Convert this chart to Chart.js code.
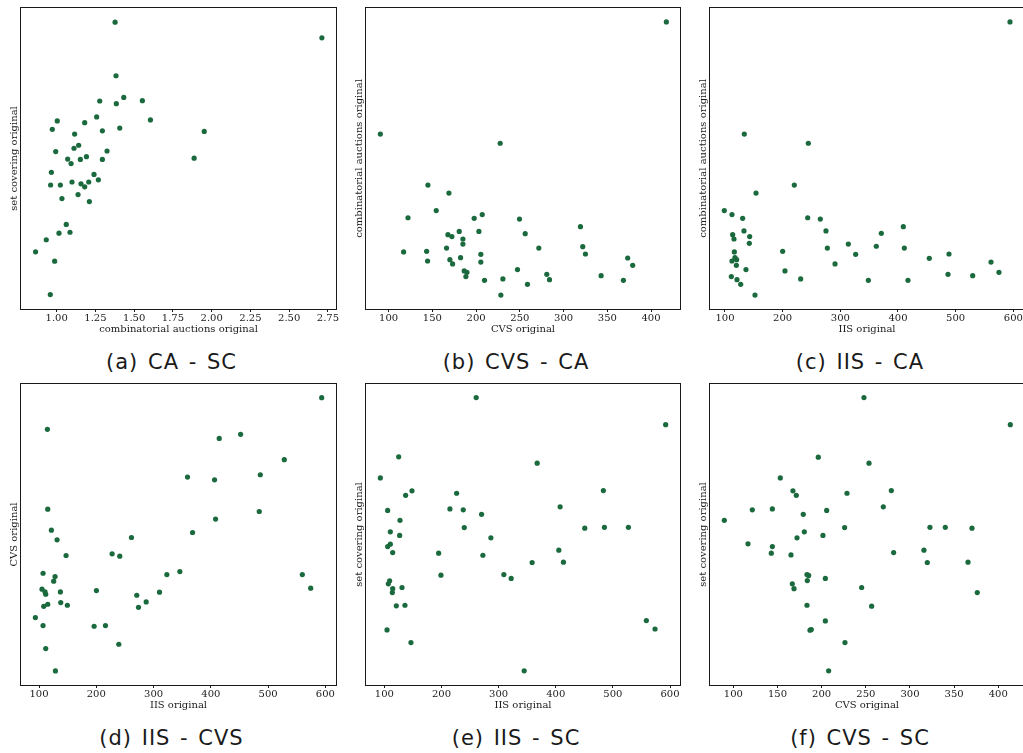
<!DOCTYPE html>
<html>
<head>
<meta charset="utf-8">
<script src="https://cdn.jsdelivr.net/npm/chart.js@4.4.1/dist/chart.umd.min.js"></script>
<style>
  html, body { margin: 0; padding: 0; background: #fff; overflow: hidden; width: 1023px; height: 753px; }
  canvas { position: absolute; }
  .caption {
    position: absolute; text-align: center; font-family: 'DejaVu Sans', sans-serif;
    font-size: 21px; line-height: 24px; color: #1a1a1a; letter-spacing: 1px; word-spacing: 2px;
    white-space: nowrap;
  }
</style>
</head>
<body>
<canvas id="c0"></canvas>
<canvas id="c1"></canvas>
<canvas id="c2"></canvas>
<canvas id="c3"></canvas>
<canvas id="c4"></canvas>
<canvas id="c5"></canvas>
<div class="caption" id="cap0"></div>
<div class="caption" id="cap1"></div>
<div class="caption" id="cap2"></div>
<div class="caption" id="cap3"></div>
<div class="caption" id="cap4"></div>
<div class="caption" id="cap5"></div>
<script>
// (a) CA - SC : x = combinatorial auctions, y = set covering (relative units)
const aX = [1.377, 2.711, 1.383, 1.433, 1.278, 1.553, 1.385, 1.258, 1.004, 0.972, 1.181, 1.605, 1.407, 1.295, 1.952,
  1.116, 1.142, 1.112, 0.994, 1.325, 1.192, 1.071, 1.153, 1.295, 1.887, 1.093, 0.966, 1.241, 1.269, 1.099,
  1.207, 1.157, 0.961, 1.024, 1.181, 1.138, 1.034, 1.211, 1.062, 1.015, 1.086, 0.933, 0.864, 0.987, 0.959];
const aY = [95.3, 90.1, 77.5, 70.3, 69.1, 69.2, 68.2, 63.8, 62.5, 59.7, 61.9, 62.8, 60.1, 59.2, 59.0,
  58.1, 54.4, 53.4, 52.3, 52.5, 50.6, 49.8, 49.7, 49.7, 50.1, 48.3, 45.4, 44.7, 42.9, 42.2,
  42.2, 41.6, 41.2, 41.2, 40.6, 38.0, 36.7, 35.7, 28.1, 25.2, 25.5, 23.0, 19.0, 15.9, 4.8];

// (b) CVS - CA : x = CVS, y = combinatorial auctions
const bX = [417.5, 90.5, 227.5, 144.9, 168.9, 154.4, 122.1, 197.8, 207.0, 249.6, 180.7, 203.2, 256.1, 319.3, 167.8,
  172.3, 184.9, 184.9, 166.2, 271.7, 321.9, 117.1, 143.4, 205.4, 325.0, 182.2, 170.0, 144.5, 173.1, 205.4,
  373.3, 379.0, 186.4, 189.5, 247.3, 280.8, 342.9, 188.3, 230.6, 209.6, 283.9, 368.4, 258.7, 228.3];
const bY = [2.703, 1.949, 1.887, 1.606, 1.552, 1.434, 1.386, 1.382, 1.407, 1.377, 1.294, 1.294, 1.279, 1.326, 1.272,
  1.259, 1.243, 1.209, 1.182, 1.182, 1.191, 1.156, 1.160, 1.140, 1.142, 1.117, 1.104, 1.095, 1.075, 1.088,
  1.115, 1.066, 1.028, 1.019, 1.037, 1.005, 0.996, 0.990, 0.974, 0.965, 0.969, 0.965, 0.938, 0.866];

// (c) IIS - CA : x = IIS, y = combinatorial auctions
const cX = [594.2, 133.5, 244.5, 220.2, 153.8, 98.8, 112.1, 130.6, 243.4, 265.3, 409.2, 132.9, 275.1, 371.1, 113.3,
  142.8, 115.6, 142.2, 313.9, 362.4, 277.5, 411.0, 200.0, 116.2, 326.6, 488.4, 117.3, 454.3, 120.2, 112.1,
  561.3, 290.8, 119.7, 136.4, 204.0, 575.1, 486.7, 529.5, 111.0, 231.2, 120.8, 348.6, 417.3, 127.2, 152.0];
const cY = [2.703, 1.949, 1.887, 1.606, 1.552, 1.434, 1.407, 1.382, 1.386, 1.377, 1.326, 1.297, 1.297, 1.281, 1.272,
  1.259, 1.243, 1.214, 1.209, 1.194, 1.182, 1.182, 1.160, 1.156, 1.140, 1.142, 1.117, 1.113, 1.104, 1.095,
  1.088, 1.075, 1.066, 1.037, 1.028, 1.019, 1.005, 0.996, 0.990, 0.974, 0.969, 0.965, 0.965, 0.938, 0.866];

// (d) IIS - CVS : x = IIS, y = CVS
const dX = [593.6, 114.6, 414.7, 452.0, 528.3, 486.4, 359.3, 406.5, 115.2, 484.6, 408.3, 121.6, 368.1, 261.4, 131.5,
  147.2, 227.6, 241.0, 107.0, 128.0, 345.9, 323.2, 559.8, 125.6, 574.4, 105.2, 200.2, 110.5, 111.7, 137.3,
  310.4, 270.7, 287.1, 137.9, 115.2, 108.2, 149.5, 273.7, 93.6, 107.0, 196.2, 216.0, 239.3, 111.7, 128.6];
const dY = [417.6, 379.7, 368.9, 373.7, 343.4, 325.4, 322.6, 319.4, 284.3, 281.5, 272.4, 259.2, 256.4, 250.4, 247.6,
  228.9, 230.9, 228.1, 207.7, 203.7, 209.7, 206.1, 206.1, 198.2, 189.8, 188.6, 187.0, 185.4, 182.6, 185.4,
  185.0, 181.4, 173.4, 172.6, 170.6, 168.2, 169.4, 167.0, 154.7, 145.1, 144.3, 145.1, 122.8, 117.6, 90.9];

// (e) IIS - SC : x = IIS, y = set covering
const eX = [260.8, 592.4, 125.1, 367.5, 93.0, 148.4, 483.4, 137.3, 226.5, 407.7, 105.8, 214.8, 238.1, 270.2, 127.4,
  239.9, 450.8, 485.2, 527.2, 110.5, 126.8, 286.5, 110.5, 105.8, 114.6, 195.0, 272.5, 405.4, 358.7, 413.5,
  199.1, 309.2, 322.0, 109.3, 107.0, 114.6, 130.9, 114.0, 121.0, 136.1, 558.6, 104.7, 573.8, 146.6, 344.8];
const eY = [95.5, 86.5, 75.8, 73.7, 68.8, 64.5, 64.6, 63.0, 63.7, 59.2, 58.0, 58.5, 58.2, 56.7, 54.7,
  52.3, 52.1, 52.4, 52.4, 50.9, 49.7, 48.9, 46.8, 46.0, 44.0, 43.8, 43.1, 44.8, 40.7, 40.8,
  36.5, 36.7, 35.4, 34.6, 33.6, 32.0, 32.4, 30.7, 26.3, 26.5, 21.4, 18.3, 18.6, 14.1, 4.7];

// (f) CVS - SC : x = CVS, y = set covering
const fX = [247.9, 413.6, 196.2, 253.6, 153.2, 167.5, 171.3, 228.7, 278.9, 269.8, 121.5, 144.2, 205.7, 179.2, 89.8,
  180.4, 226.0, 322.6, 340.0, 370.2, 201.5, 172.1, 116.6, 144.2, 143.0, 165.3, 281.5, 315.8, 319.6, 365.7,
  183.4, 185.3, 183.8, 204.2, 166.8, 168.7, 245.3, 376.2, 183.4, 256.6, 204.2, 186.8, 188.3, 226.4, 207.9];
const fY = [95.5, 86.5, 75.7, 73.7, 68.8, 64.5, 63.0, 63.7, 64.6, 59.2, 58.2, 58.5, 58.0, 56.7, 54.7,
  50.9, 52.3, 52.4, 52.4, 52.1, 49.7, 48.9, 46.9, 46.0, 43.8, 43.2, 44.0, 44.8, 40.7, 40.8,
  36.7, 36.4, 34.7, 35.4, 33.6, 32.0, 32.4, 30.7, 26.5, 26.2, 21.3, 18.2, 18.4, 14.1, 4.7];

// tick labels
const caTicks = [1.00, 1.25, 1.50, 1.75, 2.00, 2.25, 2.50, 2.75];
const cvsTicks = [100, 150, 200, 250, 300, 350, 400];
const iisTicks = [100, 200, 300, 400, 500, 600];

const captions = ['(a) CA - SC', '(b) CVS - CA', '(c) IIS - CA', '(d) IIS - CVS', '(e) IIS - SC', '(f) CVS - SC'];
const xTitles = ['combinatorial auctions original', 'CVS original', 'IIS original', 'IIS original', 'IIS original', 'CVS original'];
const yTitles = ['set covering original', 'combinatorial auctions original', 'combinatorial auctions original',
  'CVS original', 'set covering original', 'set covering original'];

const panels = [
  { xs: aX, ys: aY, ticks: caTicks, dec: 2, xr: [0.770, 2.802], yr: [0, 100] },
  { xs: bX, ys: bY, ticks: cvsTicks, dec: 0, xr: [74.1, 433.1], yr: [0.772, 2.797] },
  { xs: cX, ys: cY, ticks: iisTicks, dec: 0, xr: [74.0, 618.5], yr: [0.772, 2.797] },
  { xs: dX, ys: dY, ticks: iisTicks, dec: 0, xr: [68.5, 618.6], yr: [74.1, 433.9] },
  { xs: eX, ys: eY, ticks: iisTicks, dec: 0, xr: [67.9, 617.5], yr: [0, 100] },
  { xs: fX, ys: fY, ticks: cvsTicks, dec: 0, xr: [73.6, 429.1], yr: [0, 100] },
];

// plot-area boxes in page pixels: left, top, right, bottom
const boxes = [
  [21, 8, 336, 309], [366, 8, 680, 309], [710, 8, 1024, 309],
  [21, 384, 336, 685], [366, 384, 680, 685], [710, 384, 1024, 685],
];
const Y_W = 14, X_H = 26, PAD_T = 4, PAD_R = 4;
const captionTop = [350, 350, 350, 726, 726, 726];

const serif = { family: 'DejaVu Serif', size: 10 };
const textColor = '#1a1a1a';

const framePlugin = {
  id: 'frame',
  afterDraw(chart) {
    const { ctx, chartArea: a } = chart;
    ctx.save();
    ctx.strokeStyle = '#1a1a1a';
    ctx.lineWidth = 1;
    ctx.strokeRect(a.left - 0.5, a.top - 0.5, a.right - a.left + 1, a.bottom - a.top + 1);
    ctx.restore();
  }
};

panels.forEach((p, i) => {
  const [l, t, r, b] = boxes[i];
  const canvas = document.getElementById('c' + i);
  const w = (r - l) + Y_W + PAD_R;
  const h = (b - t) + PAD_T + X_H;
  canvas.width = w; canvas.height = h;
  canvas.style.width = w + 'px'; canvas.style.height = h + 'px';
  canvas.style.left = (l - Y_W) + 'px';
  canvas.style.top = (t - PAD_T) + 'px';

  const cap = document.getElementById('cap' + i);
  cap.textContent = captions[i];
  cap.style.left = (l - Y_W) + 'px';
  cap.style.width = (r - l + Y_W) + 'px';
  cap.style.top = captionTop[i] + 'px';

  new Chart(canvas, {
    type: 'scatter',
    data: {
      datasets: [{
        data: p.xs.map((x, k) => ({ x: x, y: p.ys[k] })),
        backgroundColor: '#1b6a3e',
        borderWidth: 0,
        pointRadius: 2.6,
      }]
    },
    options: {
      responsive: false,
      animation: false,
      layout: { padding: { top: PAD_T, right: PAD_R, left: 0, bottom: 0 } },
      plugins: { legend: { display: false }, tooltip: { enabled: false } },
      scales: {
        x: {
          type: 'linear',
          min: p.xr[0], max: p.xr[1],
          afterBuildTicks: s => { s.ticks = p.ticks.map(v => ({ value: v })); },
          afterFit: s => { s.height = X_H; },
          ticks: {
            font: serif, color: textColor, padding: 0, maxRotation: 0, autoSkip: false,
            callback: v => Number(v).toFixed(p.dec)
          },
          grid: { display: true, drawOnChartArea: false, tickLength: 3, tickColor: '#1a1a1a' },
          border: { display: false },
          title: { display: true, text: xTitles[i], font: serif, color: textColor, padding: 0 }
        },
        y: {
          type: 'linear',
          min: p.yr[0], max: p.yr[1],
          afterFit: s => { s.width = Y_W; },
          ticks: { display: false },
          grid: { display: false },
          border: { display: false },
          title: { display: true, text: yTitles[i], font: serif, color: textColor, padding: { top: 1, bottom: 0 } }
        }
      }
    },
    plugins: [framePlugin]
  });
});
</script>
</body>
</html>
